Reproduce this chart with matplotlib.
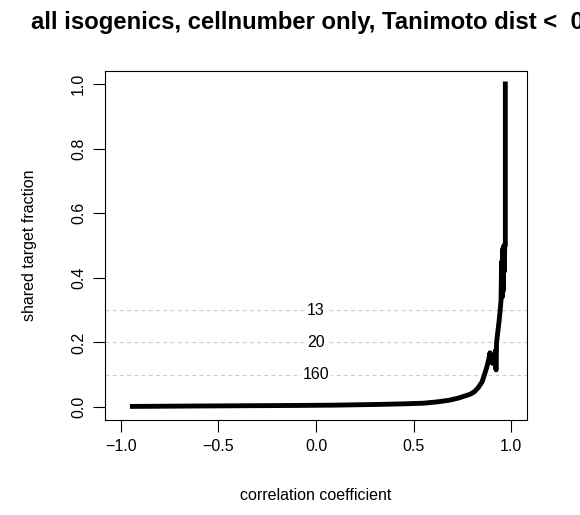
import matplotlib
matplotlib.use("Agg")
import matplotlib.pyplot as plt

plt.rcParams['font.family'] = ['Liberation Sans', 'DejaVu Sans']

# curve
corr = [-0.94, -0.7, -0.4, -0.1, 0.1, 0.3, 0.45, 0.55, 0.62, 0.68, 0.73,
        0.77, 0.79, 0.81, 0.83, 0.85, 0.862, 0.875, 0.885, 0.890, 0.895,
        0.905, 0.912, 0.918, 0.920, 0.922, 0.924, 0.930, 0.937, 0.942,
        0.947, 0.950, 0.953, 0.956, 0.959, 0.962, 0.964, 0.966, 0.969, 0.969]
frac = [0.002, 0.003, 0.004, 0.005, 0.006, 0.008, 0.010, 0.012, 0.016, 0.021, 0.028,
        0.036, 0.040, 0.047, 0.060, 0.078, 0.100, 0.125, 0.150, 0.168, 0.140,
        0.135, 0.150, 0.175, 0.120, 0.115, 0.198, 0.230, 0.265, 0.295,
        0.330, 0.450, 0.340, 0.490, 0.360, 0.500, 0.420, 0.500, 0.500, 1.000]

cut_levels = [0.1, 0.2, 0.3]
cut_counts = ["160", "20", "13"]

xticks = [-1.0, -0.5, 0.0, 0.5, 1.0]
yticks = [0.0, 0.2, 0.4, 0.6, 0.8, 1.0]

W, H = 580, 515
fig = plt.figure(figsize=(W / 100, H / 100), dpi=100)
ax = fig.add_axes([105 / W, 1 - 420 / H, (527 - 105) / W, (420 - 71) / H])

for lev, lab in zip(cut_levels, cut_counts):
    ax.axhline(lev, color='#cccccc', lw=0.8, dashes=(3.5, 3), zorder=1)
    ax.text(0.0, lev, lab, ha='center', va='center', fontsize=11.5, zorder=2,
            bbox=dict(fc='white', ec='none', pad=1))

ax.plot(corr, frac, color='black', lw=3.5, solid_joinstyle='round', zorder=3)

ax.set_xlim(-1.08, 1.08)
ax.set_ylim(-0.04, 1.04)
ax.set_xticks(xticks)
ax.set_yticks(yticks)
ax.set_xticklabels([f"{v:.1f}".replace("-", "\u2212") for v in xticks])
ax.set_yticklabels([f"{v:.1f}" for v in yticks], rotation=90, va='center')
ax.tick_params(length=8.5, width=0.8, labelsize=11.5, pad=5)
for s in ax.spines.values():
    s.set_linewidth(0.8)

fig.text(316 / W, 1 - 495 / H, "correlation coefficient", ha='center', va='center', fontsize=11.5)
fig.text(30 / W, 1 - 245 / H, "shared target fraction", ha='center', va='center',
         rotation=90, fontsize=11.5)
# title runs past the right edge, as in the original
fig.text(31 / W, 1 - 22 / H, "all isogenics, cellnumber only, Tanimoto dist <  0.3",
         ha='left', va='center', fontsize=17.2, fontweight='bold')

fig.savefig("out.png", dpi=100)
